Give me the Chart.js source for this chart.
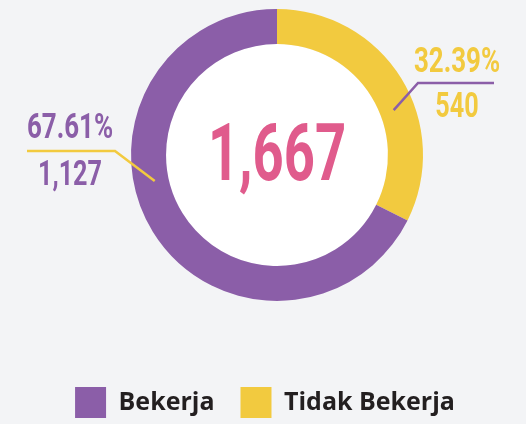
<!DOCTYPE html>
<html>
<head>
<meta charset="utf-8">
<script src="https://cdn.jsdelivr.net/npm/chart.js@4.4.1/dist/chart.umd.min.js"></script>
<style>
  html, body { margin: 0; padding: 0; background: #f3f4f6; overflow: hidden; }
  #wrap { position: absolute; left: 0; top: 0; width: 526px; height: 428px; }
</style>
</head>
<body>
<div id="wrap"><canvas id="statusChart"></canvas></div>
<script>
// data
const categories = ['Tidak Bekerja', 'Bekerja'];
const counts = [540, 1127];
const sliceColors = ['#f2ca3f', '#8b5ea8'];
const lineColors = ['#8b5ea8', '#f2ca3f'];

const total = counts.reduce((a, b) => a + b, 0);
const fmt = n => n.toLocaleString('en-US');

// leader line + label layout, offsets from the donut centre (px)
const leaders = [
  { angle: -21, r: 125, elbow: [141, -72], end: [217, -72], textX: 180, pctY: -83, valY: -38 },
  { angle: 168, r: 125, elbow: [-162, -4], end: [-250, -4], textX: -207, pctY: -17, valY: 30 }
];

// draw condensed numbers by squeezing Roboto horizontally
function drawNum(ctx, text, x, y, size, color, sx) {
  ctx.save();
  ctx.translate(x, y);
  ctx.scale(sx, 1);
  ctx.font = '700 ' + size + 'px Roboto';
  ctx.fillStyle = color;
  ctx.textAlign = 'center';
  ctx.textBaseline = 'alphabetic';
  ctx.fillText(text, 0, 0);
  ctx.restore();
}

const donutExtras = {
  id: 'donutExtras',
  afterLayout(chart) {
    // nudge legend a little left of the donut centre
    chart.legend.left -= 12;
    chart.legend.right -= 12;
  },
  beforeDatasetsDraw(chart) {
    const arc = chart.getDatasetMeta(0).data[0];
    const ctx = chart.ctx;
    ctx.save();
    ctx.beginPath();
    ctx.arc(arc.x, arc.y, arc.innerRadius, 0, Math.PI * 2);
    ctx.fillStyle = '#ffffff';
    ctx.fill();
    ctx.restore();
  },
  afterDraw(chart) {
    const ctx = chart.ctx;
    const meta = chart.getDatasetMeta(0);
    const cx = meta.data[0].x;
    const cy = meta.data[0].y;

    meta.data.forEach((arc, i) => {
      const L = leaders[i];
      const a = L.angle * Math.PI / 180;
      ctx.save();
      ctx.strokeStyle = lineColors[i];
      ctx.lineWidth = 2.5;
      ctx.beginPath();
      ctx.moveTo(cx + Math.cos(a) * L.r, cy + Math.sin(a) * L.r);
      ctx.lineTo(cx + L.elbow[0], cy + L.elbow[1]);
      ctx.lineTo(cx + L.end[0], cy + L.end[1]);
      ctx.stroke();
      ctx.restore();

      const pct = (counts[i] / total * 100).toFixed(2) + '%';
      drawNum(ctx, pct, cx + L.textX, cy + L.pctY, 35, sliceColors[i], 0.74);
      drawNum(ctx, fmt(counts[i]), cx + L.textX, cy + L.valY, 35, sliceColors[i], 0.72);
    });

    drawNum(ctx, fmt(total), cx, cy + 25, 80, '#e05b8c', 0.68);
  }
};

new Chart(document.getElementById('statusChart'), {
  type: 'doughnut',
  data: {
    labels: categories,
    datasets: [{
      data: counts,
      backgroundColor: sliceColors,
      borderWidth: 0
    }]
  },
  options: {
    responsive: true,
    maintainAspectRatio: false,
    animation: false,
    radius: 146,
    cutout: '76%',
    layout: { padding: { left: 28, right: 0, top: 0, bottom: 0 } },
    plugins: {
      tooltip: { enabled: false },
      legend: {
        position: 'bottom',
        reverse: true,
        title: {
          display: true,
          text: ' ',
          font: { size: 10, lineHeight: 1 },
          padding: { top: 41, bottom: 0 }
        },
        labels: {
          boxWidth: 31,
          boxHeight: 31,
          padding: 26,
          color: '#231f20',
          font: { family: 'Open Sans', size: 25, weight: '700' }
        }
      }
    }
  },
  plugins: [donutExtras]
});
</script>
</body>
</html>
